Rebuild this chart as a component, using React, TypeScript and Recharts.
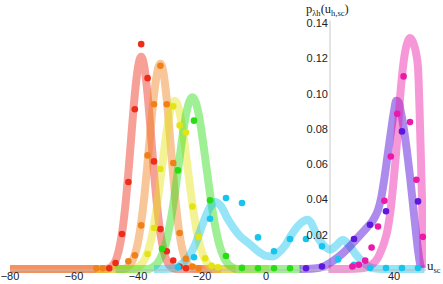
import React from "react";
import { ComposedChart, Line, Scatter, XAxis, YAxis, ReferenceLine, ReferenceDot } from "recharts";

// fitted curves (x = u_sc, y = density)
const RED_X = [-80, -70, -60, -52, -50, -49, -48, -47, -46, -45, -44, -43, -42, -41, -40, -39, -38, -37, -36, -35, -34, -33, -32, -31, -30, -29, -28, -26, -20, -14];
const RED_Y = [0.0005, 0.0005, 0.0005, 0.0005, 0.0006, 0.001, 0.0023, 0.0053, 0.0111, 0.0209, 0.0357, 0.0554, 0.078, 0.0995, 0.115, 0.121, 0.115, 0.0995, 0.078, 0.0554, 0.0357, 0.0209, 0.0111, 0.0053, 0.0023, 0.001, 0.0006, 0.0005, 0.0005, 0.0005];

const ORANGE_X = [-80, -70, -60, -50, -46, -45, -44, -43, -42, -41, -40, -39, -38, -37, -36, -35, -34, -33, -32, -31, -30, -29, -28, -27, -26, -25, -24, -23, -20, -15, -9.5];
const ORANGE_Y = [0.0005, 0.0005, 0.0005, 0.0005, 0.0005, 0.0006, 0.0008, 0.002, 0.0043, 0.0086, 0.0158, 0.0269, 0.0421, 0.061, 0.081, 0.0993, 0.112, 0.117, 0.1114, 0.0963, 0.0753, 0.0536, 0.0345, 0.0201, 0.0106, 0.0051, 0.0022, 0.0009, 0.0005, 0.0005, 0.0005];

const YELLOW_X = [-53, -45, -41.5, -40.5, -39.5, -38.5, -37.5, -36.5, -35.5, -34.5, -33.5, -32.5, -31.5, -30.5, -29.5, -28.5, -27.5, -26.5, -25.5, -24.5, -23.5, -22.5, -21.5, -20.5, -19.5, -18.5, -17.5, -16.5, -15.5, -10, 1];
const YELLOW_Y = [0.0005, 0.0005, 0.0005, 0.001, 0.0022, 0.0042, 0.0076, 0.013, 0.0207, 0.0312, 0.044, 0.0583, 0.0725, 0.0847, 0.093, 0.096, 0.093, 0.0847, 0.0725, 0.0583, 0.044, 0.0312, 0.0207, 0.013, 0.0076, 0.0042, 0.0022, 0.001, 0.0005, 0.0005, 0.0005];

const GREEN_X = [-47, -40, -37, -36, -35, -34, -33, -32, -31, -30, -29, -28, -27, -26, -25, -24, -23, -22, -21, -20, -19, -18, -17, -16, -15, -14, -13, -12, -11, -10, -9, 0, 11];
const GREEN_Y = [0.0005, 0.0005, 0.0005, 0.001, 0.002, 0.0037, 0.0066, 0.011, 0.0173, 0.0261, 0.037, 0.0499, 0.0636, 0.0768, 0.088, 0.0954, 0.098, 0.0954, 0.088, 0.0768, 0.0636, 0.0499, 0.037, 0.0261, 0.0173, 0.011, 0.0066, 0.0037, 0.002, 0.001, 0.0005, 0.0005, 0.0005];

const CYAN_X = [-35, -30, -28, -26, -24, -22, -20, -18, -16, -14, -12, -10, -8, -6, -4, -2, 0, 2, 4, 6, 8, 10, 12, 13, 14, 16, 18, 20, 22, 24, 26, 28, 30, 32, 34, 38, 44, 49.5];
const CYAN_Y = [0.0005, 0.0007, 0.0015, 0.004, 0.008, 0.015, 0.025, 0.034, 0.0385, 0.036, 0.029, 0.0235, 0.019, 0.016, 0.013, 0.01, 0.008, 0.0077, 0.01, 0.014, 0.02, 0.025, 0.028, 0.0285, 0.027, 0.019, 0.014, 0.0115, 0.014, 0.017, 0.014, 0.009, 0.005, 0.002, 0.0008, 0.0005, 0.0005, 0.0005];

const PURPLE_X = [10.5, 15, 18, 20, 22, 24, 26, 28, 30, 32, 33, 34, 35, 36, 37, 38, 39, 40, 40.7, 41.5, 42, 43, 44, 45, 46, 47, 48, 48.5];
const PURPLE_Y = [0.0005, 0.0008, 0.002, 0.004, 0.0065, 0.0095, 0.013, 0.017, 0.021, 0.025, 0.027, 0.03, 0.034, 0.041, 0.052, 0.065, 0.078, 0.09, 0.096, 0.095, 0.091, 0.081, 0.068, 0.053, 0.036, 0.019, 0.005, 0.001];

const PINK_X = [19.5, 25, 30, 33, 35, 36, 37, 38, 39, 40, 41, 42, 43, 44, 45, 46, 47, 47.5, 48, 48.6, 49, 49.3];
const PINK_Y = [0.0005, 0.0006, 0.001, 0.003, 0.007, 0.011, 0.016, 0.023, 0.035, 0.053, 0.074, 0.1, 0.118, 0.128, 0.1316, 0.129, 0.122, 0.115, 0.09, 0.05, 0.022, 0.001];

// sampled points
const RED_DOT_X = [-49, -47, -45, -43, -41, -39, -37, -35, -33, -31, -29, -27, -25];
const RED_DOT_Y = [0.001, 0.004, 0.0204, 0.0499, 0.0912, 0.1281, 0.1088, 0.0616, 0.0232, 0.0106, 0.0054, 0.002, 0.001];

const ORANGE_DOT_X = [-53, -51, -43, -41, -39, -37, -35, -33, -31, -29, -27, -25, -23, -21];
const ORANGE_DOT_Y = [0.001, 0.001, 0.0049, 0.0083, 0.0253, 0.065, 0.094, 0.1158, 0.094, 0.0607, 0.021, 0.0064, 0.002, 0.001];

const YELLOW_DOT_X = [-37, -35, -33, -29, -27, -25, -23, -21, -19, -17, -15];
const YELLOW_DOT_Y = [0.0091, 0.0238, 0.0573, 0.0928, 0.082, 0.078, 0.036, 0.0187, 0.0066, 0.0024, 0.0015];

const GREEN_DOT_X = [-32.5, -27.5, -22.5, -17.5, -12.5, -7.5, -2.5, 2.5, 7.5];
const GREEN_DOT_Y = [0.012, 0.0565, 0.0847, 0.0395, 0.0079, 0.0012, 0.001, 0.001, 0.001];

const CYAN_DOT_X = [-27.5, -22.5, -17.5, -12.5, -7.5, -2.5, 2.5, 7.5, 12.5, 17.5, 22.5, 27.5, 32.5, 37.5, 42.5, 47.5];
const CYAN_DOT_Y = [0.0015, 0.0072, 0.0291, 0.0408, 0.038, 0.0185, 0.0106, 0.0176, 0.0176, 0.0134, 0.006, 0.003, 0.0011, 0.0011, 0.0011, 0.0011];

const PURPLE_DOT_X = [12.5, 17.5, 27.5, 32.5, 37.5, 42.5, 47.5];
const PURPLE_DOT_Y = [0.001, 0.002, 0.0176, 0.0257, 0.0333, 0.0786, 0.0389];

const PINK_DOT_X = [27, 29, 31, 33, 35, 37, 39, 41, 43, 45, 47, 49];
const PINK_DOT_Y = [0.002, 0.003, 0.0053, 0.0128, 0.0247, 0.0393, 0.0644, 0.0886, 0.1098, 0.0839, 0.0512, 0.0188];

const U_TICKS = [-80, -60, -40, -20, 0, 40];
const P_TICKS = [0.02, 0.04, 0.06, 0.08, 0.1, 0.12, 0.14];
const P_LABELS = ["0.02", "0.04", "0.06", "0.08", "0.10", "0.12", "0.14"];
const Y_AXIS_AT = 20;

const pts = (xs: number[], ys: number[]) => xs.map((x, i) => ({ x, y: ys[i] }));

const SERIES = [
    { name: "red", color: "#EE2C1A", opacity: 0.45, curve: pts(RED_X, RED_Y), dots: pts(RED_DOT_X, RED_DOT_Y) },
    { name: "orange", color: "#F0801A", opacity: 0.45, curve: pts(ORANGE_X, ORANGE_Y), dots: pts(ORANGE_DOT_X, ORANGE_DOT_Y) },
    { name: "yellow", color: "#E4E414", opacity: 0.45, curve: pts(YELLOW_X, YELLOW_Y), dots: pts(YELLOW_DOT_X, YELLOW_DOT_Y) },
    { name: "green", color: "#2ADC14", opacity: 0.45, curve: pts(GREEN_X, GREEN_Y), dots: pts(GREEN_DOT_X, GREEN_DOT_Y) },
    { name: "cyan", color: "#16C4EE", opacity: 0.45, curve: pts(CYAN_X, CYAN_Y), dots: pts(CYAN_DOT_X, CYAN_DOT_Y) },
    { name: "purple", color: "#5C18DC", opacity: 0.5, curve: pts(PURPLE_X, PURPLE_Y), dots: pts(PURPLE_DOT_X, PURPLE_DOT_Y) },
    { name: "pink", color: "#EC18A8", opacity: 0.45, curve: pts(PINK_X, PINK_Y), dots: pts(PINK_DOT_X, PINK_DOT_Y) },
];

const TICK_FONT = { fontFamily: "'Liberation Sans', Arial, sans-serif", fontSize: 11, fill: "#222" };
const SERIF = "'Liberation Serif', 'Times New Roman', serif";

const dotShape = (color: string) => (props: any) => (
    <circle cx={props.cx} cy={props.cy} r={3.3} fill={color} />
);

export default function App() {
    return (
        <div style={{ position: "absolute", left: 0, top: 0, width: 443, height: 284, background: "#fff", overflow: "hidden" }}>
            <ComposedChart width={443} height={284} margin={{ top: 20.5, right: 17, bottom: 0, left: 10 }}>
                <XAxis
                    dataKey="x"
                    type="number"
                    domain={[-80, 50]}
                    ticks={U_TICKS}
                    allowDataOverflow
                    height={14}
                    axisLine={{ stroke: "#bbb" }}
                    tickLine={false}
                    tickSize={0}
                    tickMargin={2}
                    tick={TICK_FONT}
                    tickFormatter={(v: number) => String(v).replace("-", "\u2212")}
                />
                <YAxis dataKey="y" type="number" domain={[0, 0.1415]} hide />
                <ReferenceLine x={Y_AXIS_AT} stroke="#c8c8c8" />
                {P_TICKS.map((v, i) => (
                    <ReferenceDot
                        key={v}
                        x={Y_AXIS_AT}
                        y={v}
                        r={0}
                        fill="none"
                        stroke="none"
                        label={{ value: P_LABELS[i], position: "left", offset: 2, ...TICK_FONT }}
                    />
                ))}
                {SERIES.map((s) => (
                    <Scatter
                        key={"d-" + s.name}
                        data={s.dots}
                        shape={dotShape(s.color)}
                        isAnimationActive={false}
                    />
                ))}
                {SERIES.map((s) => (
                    <Line
                        key={"c-" + s.name}
                        data={s.curve}
                        dataKey="y"
                        type="monotone"
                        stroke={s.color}
                        strokeOpacity={s.opacity}
                        strokeWidth={8}
                        strokeLinejoin="round"
                        dot={false}
                        activeDot={false}
                        isAnimationActive={false}
                    />
                ))}
            </ComposedChart>
            <div style={{ position: "absolute", left: 306, top: 1, fontFamily: SERIF, fontSize: 12.5, color: "#222", whiteSpace: "nowrap", lineHeight: "16px" }}>
                p<span style={{ fontSize: 8.5, position: "relative", top: 3 }}>λh</span>(u<span style={{ fontSize: 8.5, position: "relative", top: 3 }}>h,sc</span>)
            </div>
            <div style={{ position: "absolute", left: 427, top: 258, fontFamily: SERIF, fontSize: 13, color: "#222", whiteSpace: "nowrap", lineHeight: "16px" }}>
                u<span style={{ fontSize: 8.5, position: "relative", top: 3 }}>sc</span>
            </div>
        </div>
    );
}
